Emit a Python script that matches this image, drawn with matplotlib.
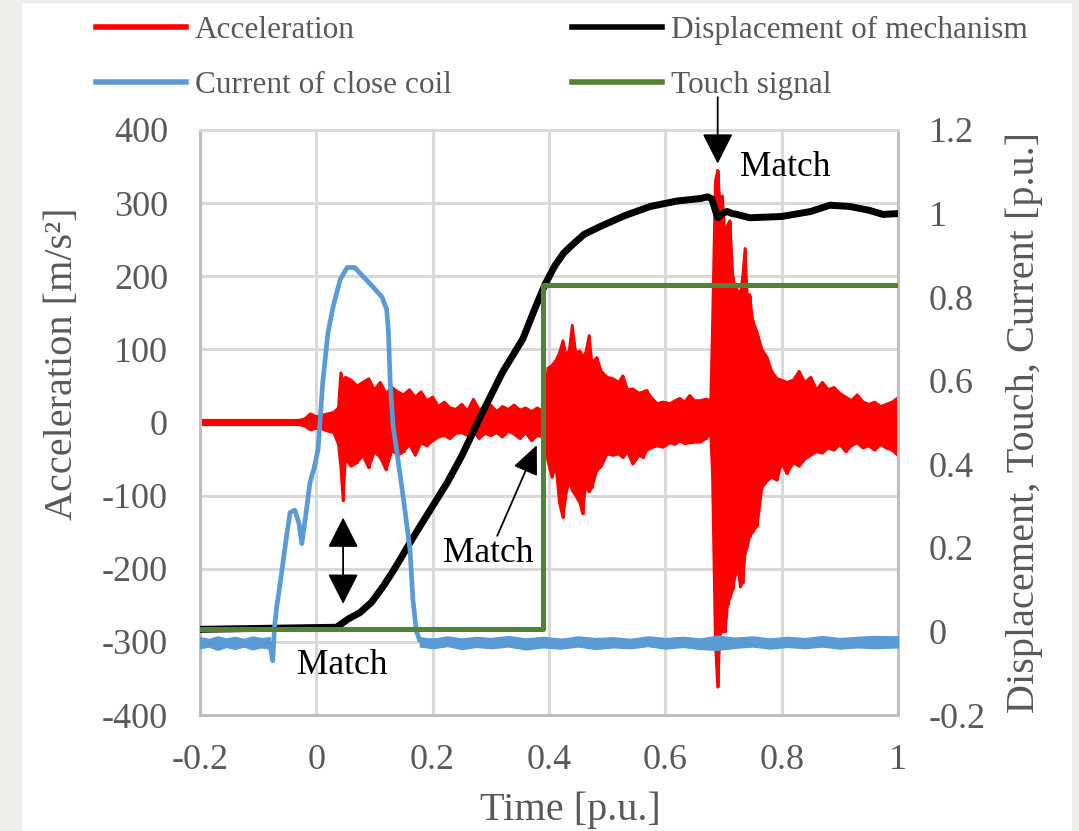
import numpy as np
import matplotlib
matplotlib.use("Agg")
from matplotlib import pyplot as plt
from matplotlib.lines import Line2D
from matplotlib.patches import Rectangle

plt.rcParams['font.family'] = ['Liberation Serif', 'DejaVu Serif']

# ---- data ----
x_ticks = [-0.2, 0.0, 0.2, 0.4, 0.6, 0.8, 1.0]
x_labels = ["-0.2", "0", "0.2", "0.4", "0.6", "0.8", "1"]
acc_ticks = [-400, -300, -200, -100, 0, 100, 200, 300, 400]
pu_ticks = [-0.2, 0.0, 0.2, 0.4, 0.6, 0.8, 1.0, 1.2]
pu_labels = ["-0.2", "0", "0.2", "0.4", "0.6", "0.8", "1", "1.2"]

# acceleration envelope (upper / lower peaks), m/s^2
acc_t = [-0.2, -0.03, -0.02, -0.01, 0.0, 0.01, 0.02, 0.03, 0.038, 0.042, 0.046,
         0.05, 0.06, 0.07, 0.08, 0.09, 0.10, 0.11, 0.12, 0.13, 0.14, 0.15, 0.16,
         0.17, 0.18, 0.19, 0.20, 0.21, 0.22, 0.23, 0.24, 0.25, 0.26, 0.27, 0.28,
         0.29, 0.30, 0.31, 0.32, 0.33, 0.34, 0.35, 0.36, 0.37, 0.38, 0.392,
         0.398, 0.405, 0.412, 0.418, 0.424, 0.43, 0.435, 0.44, 0.446, 0.453,
         0.458, 0.463, 0.469, 0.474, 0.482, 0.49, 0.50, 0.51, 0.52, 0.527,
         0.535, 0.544, 0.555, 0.562, 0.568, 0.575, 0.586, 0.596, 0.608, 0.617,
         0.625, 0.633, 0.642, 0.65, 0.66, 0.67, 0.678,
         0.681, 0.686, 0.690, 0.694, 0.698, 0.703, 0.707, 0.711, 0.716, 0.720,
         0.725, 0.729, 0.733, 0.737, 0.741, 0.745, 0.75, 0.758, 0.766, 0.775,
         0.783, 0.792, 0.80, 0.809, 0.82, 0.83, 0.84, 0.85, 0.86, 0.87, 0.88,
         0.89, 0.90, 0.91, 0.92, 0.93, 0.94, 0.95, 0.96, 0.97, 0.98, 0.99, 1.0]
acc_hi = [3, 3, 5, 12, 8, 10, 12, 14, 20, 68, 55,
          62, 58, 50, 55, 60, 45, 55, 40, 48, 42, 38, 45,
          35, 42, 30, 35, 22, 28, 20, 18, 25, 16, 32, 18,
          20, 24, 15, 22, 18, 24, 17, 20, 15, 20, 14,
          74, 78, 85, 95, 112, 90, 100, 133, 95, 98,
          90, 95, 119, 80, 89, 70, 62, 60, 55, 64,
          45, 46, 40, 42, 44, 35, 26, 28, 26, 30,
          33, 28, 37, 30, 30, 32, 30,
          130, 330, 345, 300, 310, 250, 270, 276, 200, 185,
          180, 175, 200, 238, 170, 175, 140, 123, 100, 89,
          70, 60, 58, 55, 58, 70, 55, 62, 45, 55, 45,
          48, 40, 35, 30, 38, 28, 25, 28, 22, 25, 28, 34]
acc_lo = [-3, -3, -5, -10, -8, -9, -12, -14, -30, -60, -107,
          -50, -60, -55, -45, -62, -40, -48, -65, -38, -45, -40, -30,
          -45, -28, -32, -25, -20, -18, -22, -15, -14, -18, -12, -22,
          -15, -18, -14, -20, -12, -16, -22, -14, -25, -18, -20,
          -52, -75, -60, -110, -130, -95, -80, -93, -100, -110,
          -125, -85, -95, -89, -66, -60, -43, -45, -43, -48,
          -40, -57, -45, -48, -38, -35, -32, -34, -28, -30,
          -25, -29, -28, -27, -27, -22, -15,
          -70, -300, -362, -290, -286, -286, -250, -240, -228, -210,
          -200, -225, -219, -180, -170, -156, -150, -141, -89, -80,
          -75, -79, -55, -70, -55, -60, -50, -45, -40, -42, -35,
          -38, -30, -40, -32, -28, -35, -32, -38, -30, -35, -38, -45]

# displacement of mechanism, p.u.
disp_t = [-0.2, 0.035, 0.055, 0.075, 0.095, 0.115, 0.13, 0.144, 0.16, 0.178,
          0.2, 0.225, 0.25, 0.287, 0.32, 0.355, 0.375, 0.393, 0.41, 0.425,
          0.436, 0.46, 0.488, 0.53, 0.574, 0.62, 0.66, 0.673, 0.68, 0.69,
          0.698, 0.706, 0.715, 0.723, 0.745, 0.8, 0.85, 0.883, 0.917, 0.95,
          0.974, 1.0]
disp_v = [0.005, 0.01, 0.03, 0.045, 0.07, 0.108, 0.14, 0.172, 0.21, 0.251,
          0.30, 0.356, 0.42, 0.528, 0.62, 0.70, 0.77, 0.83, 0.875, 0.905,
          0.92, 0.95, 0.969, 0.995, 1.017, 1.03, 1.036, 1.04, 1.035, 0.99,
          1.0, 1.005, 1.0, 0.998, 0.99, 0.993, 1.005, 1.02, 1.017, 1.008,
          0.998, 1.0]

# current of close coil, p.u.
cur_t = [-0.2, -0.08, -0.075, -0.072, -0.068, -0.062, -0.052, -0.045, -0.037,
         -0.03, -0.025, -0.018, -0.011, -0.004, 0.003, 0.011, 0.02, 0.029,
         0.041, 0.053, 0.066, 0.08, 0.097, 0.113, 0.121, 0.124, 0.127, 0.132,
         0.138, 0.149, 0.161, 0.166, 0.172, 0.178, 1.0]
cur_v = [-0.028, -0.028, -0.07, 0.01, 0.06, 0.117, 0.22, 0.285, 0.29,
         0.26, 0.21, 0.28, 0.356, 0.39, 0.435, 0.596, 0.715, 0.778,
         0.842, 0.871, 0.871, 0.85, 0.825, 0.80, 0.77, 0.715, 0.596, 0.49,
         0.435, 0.325, 0.196, 0.077, 0.0, -0.022, -0.025]
# noise band of the current around its baseline
band_l_t = [-0.2, -0.185, -0.17, -0.155, -0.14, -0.125, -0.11, -0.095, -0.08]
band_l_hi = [-0.014, -0.018, -0.012, -0.017, -0.013, -0.018, -0.012, -0.016, -0.014]
band_l_lo = [-0.040, -0.036, -0.044, -0.037, -0.042, -0.036, -0.043, -0.038, -0.041]
band_r_t = [0.178, 0.2, 0.225, 0.25, 0.275, 0.3, 0.33, 0.36, 0.39, 0.42, 0.45,
            0.48, 0.51, 0.54, 0.57, 0.6, 0.63, 0.66, 0.69, 0.72, 0.75, 0.78,
            0.81, 0.84, 0.87, 0.9, 0.93, 0.96, 1.0]
band_r_hi = [-0.014, -0.018, -0.012, -0.017, -0.013, -0.016, -0.011, -0.017,
             -0.013, -0.018, -0.012, -0.016, -0.014, -0.018, -0.012, -0.016,
             -0.013, -0.017, -0.01, -0.015, -0.012, -0.017, -0.013, -0.016,
             -0.011, -0.016, -0.013, -0.011, -0.012]
band_r_lo = [-0.036, -0.040, -0.035, -0.042, -0.037, -0.040, -0.036, -0.043,
             -0.038, -0.041, -0.036, -0.042, -0.038, -0.040, -0.035, -0.041,
             -0.037, -0.042, -0.044, -0.039, -0.036, -0.041, -0.037, -0.040,
             -0.036, -0.041, -0.038, -0.040, -0.038]

# touch signal, p.u.
touch_t = [-0.2, 0.39, 0.39, 1.0]
touch_v = [0.005, 0.005, 0.83, 0.83]

legend_labels = ["Acceleration", "Current of close coil",
                 "Displacement of mechanism", "Touch signal"]

RED = '#ff0000'
BLUE = '#5b9bd5'
GREEN = '#548235'
TXT = '#595959'
GRID = '#d9d9d9'

fig = plt.figure(figsize=(10.79, 8.31), dpi=100)
fig.patch.set_facecolor('#efeeeb')
fig.add_artist(Rectangle((22 / 1079, 0), 1050 / 1079, 828 / 831,
                         transform=fig.transFigure, facecolor='white',
                         edgecolor='none', zorder=0))

ax = fig.add_axes([200 / 1079, 116 / 831, 698 / 1079, 585 / 831])
ax.set_facecolor('white')
ax.set_xlim(-0.2, 1.0)
ax.set_ylim(-400, 400)
ax.set_xticks(x_ticks)
ax.set_xticklabels(x_labels)
ax.set_yticks(acc_ticks)
ax.set_yticklabels([str(v) for v in acc_ticks])
ax.grid(True, color=GRID, lw=2.2)
ax.set_axisbelow(True)
ax.tick_params(axis='both', length=0, labelsize=26, labelcolor=TXT)
ax.tick_params(axis='y', pad=23)
ax.tick_params(axis='x', pad=21)
for s in ['left', 'bottom', 'right']:
    ax.spines[s].set_color('#bfbfbf')
    ax.spines[s].set_linewidth(2.2)
ax.spines['top'].set_color(GRID)
ax.spines['top'].set_linewidth(2.2)

ax.fill_between(acc_t, acc_lo, acc_hi, color=RED, lw=0, zorder=2)
ax.vlines(acc_t, acc_lo, acc_hi, color=RED, lw=2.0, zorder=2)
ax.plot(acc_t, acc_hi, color=RED, lw=2.0, zorder=2)
ax.plot(acc_t, acc_lo, color=RED, lw=2.0, zorder=2)

ax.set_xlabel("Time [p.u.]", fontsize=29, color=TXT)
ax.xaxis.set_label_coords(0.53, -0.13)
ax.set_ylabel("Acceleration [m/s²]", fontsize=29, color=TXT)
ax.yaxis.set_label_coords(-0.17, 0.60)

ax2 = ax.twinx()
ax2.set_ylim(-0.2, 1.2)
ax2.set_yticks(pu_ticks)
ax2.set_yticklabels(pu_labels, ha='left')
ax2.tick_params(axis='y', length=0, labelsize=26, labelcolor=TXT, pad=22)
for s in ax2.spines.values():
    s.set_visible(False)

ax2.plot(disp_t, disp_v, color='black', lw=5.0, zorder=3,
         solid_joinstyle='round', solid_capstyle='round')
ax2.fill_between(band_l_t, band_l_lo, band_l_hi, color=BLUE, lw=1.0, zorder=4)
ax2.fill_between(band_r_t, band_r_lo, band_r_hi, color=BLUE, lw=1.0, zorder=4)
ax2.plot(cur_t, cur_v, color=BLUE, lw=3.4, zorder=4, solid_joinstyle='round')
ax2.plot(touch_t, touch_v, color=GREEN, lw=3.6, zorder=5)

ax2.set_ylabel("Displacement, Touch, Current [p.u.]", fontsize=29, color=TXT)
ax2.yaxis.set_label_coords(1.154, 0.5)

# annotations (placed in acceleration coordinates)
head = dict(facecolor='black', edgecolor='black', lw=1.3, shrinkA=0, shrinkB=0)
ax2.annotate("", xy=(0.69, 354), xytext=(0.69, 445), xycoords=ax.transData,
             textcoords=ax.transData, annotation_clip=False,
             arrowprops=dict(arrowstyle='-|>,head_length=0.95,head_width=0.48',
                             mutation_scale=20, **head), zorder=6)
ax2.text(0.728, 349, "Match", transform=ax.transData, fontsize=25.5,
         color='black', va='center', ha='left', zorder=6)

ax2.annotate("", xy=(0.046, -248), xytext=(0.046, -130), xycoords=ax.transData,
             textcoords=ax.transData,
             arrowprops=dict(arrowstyle='<|-|>,head_length=0.95,head_width=0.48',
                             mutation_scale=20, **head), zorder=6)
ax2.text(0.044, -332, "Match", transform=ax.transData, fontsize=25.5,
         color='black', va='center', ha='center', zorder=6)

ax2.annotate("", xy=(0.379, -31), xytext=(0.311, -155), xycoords=ax.transData,
             textcoords=ax.transData,
             arrowprops=dict(arrowstyle='-|>,head_length=0.9,head_width=0.4',
                             mutation_scale=20, **head), zorder=6)
ax2.text(0.295, -179, "Match", transform=ax.transData, fontsize=25.5,
         color='black', va='center', ha='center', zorder=6)

# legend
colors = [RED, BLUE, 'black', GREEN]
handles = [Line2D([], [], color=c, lw=4.0) for c in colors]
fig.legend(handles, legend_labels, ncol=2, loc='upper left',
           bbox_to_anchor=(96 / 1079, 1 - 16 / 831), frameon=False,
           fontsize=22.5, labelcolor=TXT, handlelength=2.88,
           handletextpad=0.29, columnspacing=3.84, labelspacing=0.82,
           borderpad=0, borderaxespad=0)

fig.savefig("out.png", dpi=100, facecolor=fig.get_facecolor())
